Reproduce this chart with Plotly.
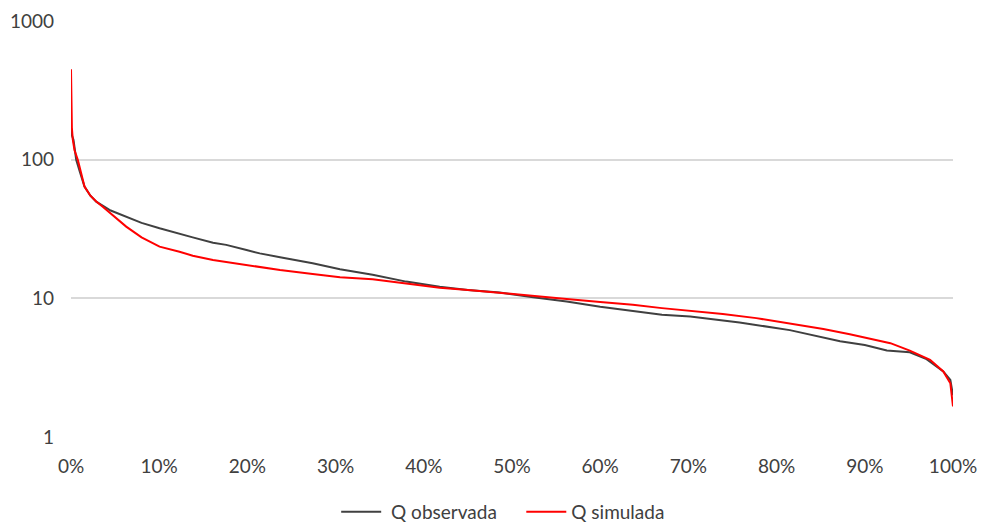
import plotly.graph_objects as go

# Exceedance probability (%) and discharge values
obs_x = [0.02, 0.1, 0.28, 0.59, 1.0, 1.53, 2.2, 2.86, 4.5, 6.26, 8.0, 10.04, 12.3, 13.8,
         16.1, 17.6, 19.9, 21.4, 23.7, 27.4, 30.5, 34.2, 38.0, 41.8, 45.0, 48.6, 52.4,
         56.2, 60.0, 63.7, 67.0, 70.2, 75.8, 81.5, 85.0, 87.2, 90.0, 92.5, 95.1, 97.0,
         98.9, 99.7, 100.0]
obs_q = [168, 150, 139, 100, 82, 64, 55, 49.8, 43, 38.8, 35, 32.0, 29.1, 27.5,
         25.2, 24.3, 22.3, 21.1, 19.8, 17.9, 16.2, 14.8, 13.2, 12.1, 11.5, 11.0, 10.2,
         9.5, 8.7, 8.1, 7.6, 7.4, 6.7, 5.9, 5.3, 4.9, 4.6, 4.2, 4.08, 3.64,
         2.97, 2.58, 2.0]

sim_x = [0.0, 0.02, 0.1, 0.2, 0.4, 0.77, 1.0, 1.53, 2.2, 2.86, 3.6, 5.0, 6.26, 8.0, 10.04,
         12.3, 13.8, 16.1, 19.9, 23.7, 27.4, 30.5, 34.2, 38.0, 41.8, 45.0, 48.6, 52.4,
         56.2, 60.0, 63.7, 67.0, 70.2, 73.9, 77.7, 81.5, 85.3, 88.3, 90.6, 92.9, 95.1,
         97.4, 98.9, 99.7, 100.0]
sim_q = [449, 199, 170, 140, 117, 100, 88, 64, 55, 50, 45.8, 38.5, 32.9, 27.5, 23.6,
         21.7, 20.3, 18.9, 17.4, 16.0, 15.0, 14.2, 13.7, 12.8, 11.9, 11.5, 11.0, 10.4,
         9.9, 9.4, 9.0, 8.5, 8.15, 7.7, 7.2, 6.6, 6.0, 5.5, 5.1, 4.75, 4.2,
         3.6, 2.97, 2.44, 1.66]

series_names = ["Q observada", "Q simulada"]
y_ticks = [1, 10, 100, 1000]
x_ticks = [0, 10, 20, 30, 40, 50, 60, 70, 80, 90, 100]

FONT = "Lato"
NB = "\u00a0"

fig = go.Figure()
fig.add_trace(go.Scatter(x=[v / 100 for v in obs_x], y=obs_q, mode="lines",
                         name=NB + series_names[0] + NB * 4,
                         line=dict(color="#404040", width=2)))
fig.add_trace(go.Scatter(x=[v / 100 for v in sim_x], y=sim_q, mode="lines",
                         name=series_names[1],
                         line=dict(color="#FF0000", width=2)))

fig.update_layout(
    width=982, height=525,
    margin=dict(l=71, r=29, t=21, b=88),
    paper_bgcolor="white", plot_bgcolor="white",
    font=dict(family=FONT, size=19, color="#404040"),
    showlegend=True,
    legend=dict(orientation="h", x=0.49, xanchor="center",
                yref="container", y=0.025, yanchor="middle",
                font=dict(size=19, color="#404040"), itemwidth=40,
                bgcolor="rgba(0,0,0,0)"),
)
fig.update_xaxes(range=[0, 1], tickvals=[v / 100 for v in x_ticks],
                 ticktext=[f"{v}%" for v in x_ticks],
                 showgrid=False, zeroline=False, showline=False, ticks="",
                 ticklabelstandoff=16, automargin=False)
fig.update_yaxes(type="log", range=[0, 3], tickvals=y_ticks,
                 ticktext=[str(v) for v in y_ticks],
                 showgrid=True, gridcolor="#D9D9D9", gridwidth=1.5,
                 zeroline=False, showline=False, ticks="", ticklabelstandoff=16,
                 automargin=False)

fig.write_html("out.html")
